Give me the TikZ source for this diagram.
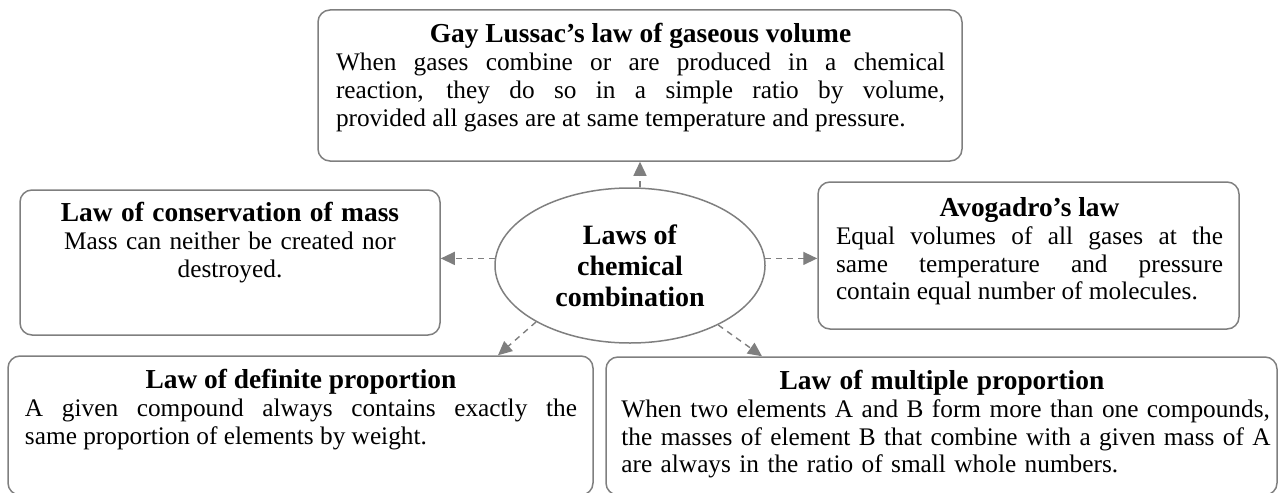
\documentclass[tikz,border=0pt]{standalone}
\usepackage{fontspec}
\setmainfont{Liberation Serif}
\usetikzlibrary{arrows.meta,shapes.geometric}
\definecolor{linegray}{HTML}{7F7F7F}
\tolerance=10000
\hbadness=10000
\hyphenpenalty=10000
\tikzset{
  lawbox/.style={draw=linegray, line width=0.75pt, rounded corners=6pt, inner sep=0pt},
  lawtext/.style={anchor=north, inner sep=0pt, font=\fontsize{12.65pt}{13.9pt}\selectfont},
  hub/.style={ellipse, draw=linegray, line width=0.75pt, inner sep=0pt, minimum width=135pt, minimum height=77.5pt, align=center, font=\fontsize{14pt}{15.5pt}\selectfont\bfseries},
  link/.style={draw=linegray, line width=0.7pt, dash pattern=on 3pt off 2.5pt, -{Triangle[length=7pt,width=6.5pt]}}
}
\newcommand{\lawtitle}[1]{\noindent{\leftskip=0pt plus 1fil\rightskip=0pt plus 1fil\parfillskip=0pt\fontsize{13.7pt}{14pt}\selectfont\bfseries\rule{0pt}{10pt}#1\par}\noindent}
\newcommand{\lawbreak}{\hfil\break}
\begin{document}
\begin{tikzpicture}[x=0.5pt,y=-0.5pt]
\useasboundingbox (0,0) rectangle (1278,492);
% boxes
\node[lawbox, minimum width=322pt, minimum height=75.5pt] (top) at (640,85.5) {};
\node[lawbox, minimum width=210pt, minimum height=72.5pt] (cons) at (230,262.5) {};
\node[lawbox, minimum width=210.5pt, minimum height=73.5pt] (avo) at (1028.5,255.5) {};
\node[lawbox, minimum width=292.5pt, minimum height=69.5pt] (defn) at (300.5,425.5) {};
\node[lawbox, minimum width=335.5pt, minimum height=69pt] (mult) at (941.5,426) {};
% hub
\node[hub] (hub) at (630,265.5) {Laws of\\chemical\\combination};
% texts
\node[lawtext, text width=304.5pt, align=justify] (toptxt) at (640.5,22.5) {\lawtitle{Gay Lussac’s law of gaseous volume}When gases combine or are produced in a chemical\linebreak reaction, they do so in a simple ratio by volume,\linebreak provided all gases are at same temperature and pressure.};
\node[lawtext, text width=200pt, align=center] (constxt) at (230,201) {\lawtitle{Law of conservation of mass}Mass can neither be created nor\\destroyed.};
\node[lawtext, text width=193.5pt, align=justify] (avotxt) at (1029.5,196) {\lawtitle{Avogadro’s law}Equal volumes of all gases at the\linebreak same temperature and pressure\linebreak contain equal number of molecules.};
\node[lawtext, text width=276pt, align=justify] (defntxt) at (301,368) {\lawtitle{Law of definite proportion}A given compound always contains exactly the\linebreak same proportion of elements by weight.};
\node[lawtext, anchor=north west, text width=330pt, align=left] (multtxt) at (621,369) {\lawtitle{Law of multiple proportion\hspace*{9.5pt}}When two elements A and B form more than one compounds,\lawbreak the masses of element B that combine with a given mass of A\lawbreak are always in the ratio of small whole numbers.};
% connectors
\draw[link] (hub.north -| top.south) -- (top.south);
\draw[link] (hub.177) -- (cons.east |- hub.177);
\draw[link] (hub.3) -- (avo.west |- hub.3);
\draw[link] (hub.211) -- ([xshift=98.75pt]defn.north);
\draw[link] (hub.326) -- ([xshift=-89.75pt]mult.north);
\end{tikzpicture}
\end{document}
